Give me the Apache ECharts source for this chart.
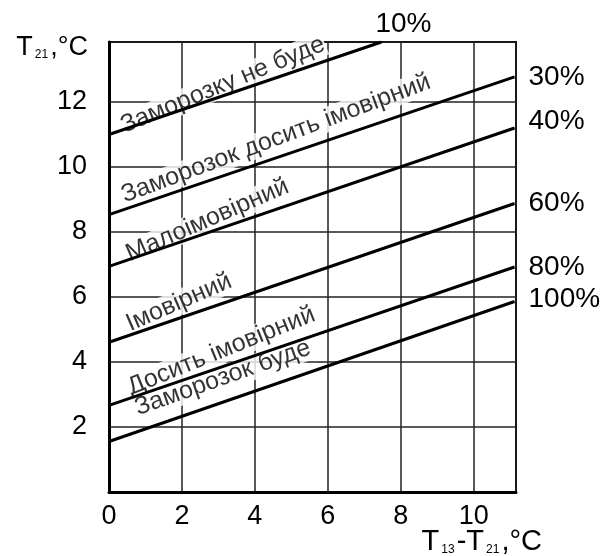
<!DOCTYPE html>
<html>
<head>
<meta charset="utf-8">
<script src="https://cdn.jsdelivr.net/npm/echarts@6/dist/echarts.min.js"></script>
<style>html,body{margin:0;padding:0;background:#fff}#c{width:610px;height:556px}</style>
</head>
<body>
<div id="c"></div>
<script>
// ---- data ----
var seriesNames = ['10%', '30%', '40%', '60%', '80%', '100%'];
var lineStartX = [0, 0, 0, 0, 0, 0];
var lineStartY = [10.98, 8.52, 6.93, 4.60, 2.66, 1.55];
var lineEndX = [7.47, 11.12, 11.12, 11.12, 11.12, 11.12];
var lineEndY = [13.82, 12.75, 11.18, 8.86, 6.91, 5.85];
var zoneTexts = ['Заморозку не буде', 'Заморозок досить імовірний', 'Малоімовірний', 'Імовірний', 'Досить імовірний', 'Заморозок буде'];
var zoneX = [3.12, 4.58, 2.70, 1.92, 3.08, 3.12];
var zoneY = [12.50, 10.85, 8.35, 5.82, 4.33, 3.50];
var xTicks = [0, 2, 4, 6, 8, 10];
var yTicks = [2, 4, 6, 8, 10, 12];
var xMax = 11.16, yMax = 13.82;

// ---- styling ----
var FONT = 'Liberation Sans, Arial, sans-serif';
var zoneAngles = [22.5, 20.5, 23.5, 23.5, 22, 19.5];
var endOffsets = [[-20, -18], [0, 0], [0, -7], [0, 0], [0, 0], [0, -2]];

var chart = echarts.init(document.getElementById('c'), null, {renderer: 'canvas'});

var series = seriesNames.map(function (n, i) {
  return {
    type: 'line', name: n, z: 4,
    data: [[lineStartX[i], lineStartY[i]], [lineEndX[i], lineEndY[i]]],
    symbol: 'none', silent: true,
    lineStyle: {color: '#000', width: 3},
    endLabel: {
      show: true, formatter: n, distance: 14,
      offset: endOffsets[i],
      fontFamily: FONT, fontSize: 28, color: '#000'
    }
  };
});

series.push({
  type: 'scatter', z: 3, silent: true,
  symbolSize: 0,
  data: zoneTexts.map(function (t, i) {
    return {
      value: [zoneX[i], zoneY[i]],
      label: {formatter: t, rotate: zoneAngles[i]}
    };
  }),
  label: {
    show: true, position: 'inside', align: 'center', verticalAlign: 'middle',
    fontFamily: FONT, fontSize: 25, color: '#000',
    backgroundColor: '#fff', padding: [0, 1]
  }
});

chart.setOption({
  animation: false,
  backgroundColor: '#fff',
  grid: {left: 109, right: 94, top: 42, bottom: 64, show: true, borderColor: '#000', borderWidth: 2,
         backgroundColor: 'transparent', containLabel: false, outerBoundsMode: 'none'},
  xAxis: {
    type: 'value', min: 0, max: xMax, interval: 2,
    axisLine: {show: true, lineStyle: {color: '#000', width: 3}},
    axisTick: {show: false},
    splitLine: {show: true, lineStyle: {color: '#222', width: 1.5}},
    axisLabel: {
      margin: 11, fontFamily: FONT, fontSize: 27, color: '#000',
      formatter: function (v) { return xTicks.indexOf(v) >= 0 ? String(v) : ''; }
    },
    name: '{b|T}{s|13}{b|-T}{s|21}{b|,°C}',
    nameLocation: 'end', nameGap: 26, nameMoveOverlap: false,
    nameTextStyle: {
      align: 'right', verticalAlign: 'top', padding: [36, 0, 0, 0],
      rich: {
        b: {fontFamily: FONT, fontSize: 29, color: '#000', verticalAlign: 'bottom', lineHeight: 28},
        s: {fontFamily: FONT, fontSize: 12, color: '#000', verticalAlign: 'bottom', lineHeight: 22, padding: [0, 2, 0, 2]}
      }
    }
  },
  yAxis: {
    type: 'value', min: 0, max: yMax, interval: 2,
    axisLine: {show: true, lineStyle: {color: '#000', width: 3}},
    axisTick: {show: false},
    splitLine: {show: true, lineStyle: {color: '#222', width: 1.5}},
    axisLabel: {
      margin: 22, fontFamily: FONT, fontSize: 27, color: '#000',
      formatter: function (v) { return yTicks.indexOf(v) >= 0 ? String(v) : ''; }
    },
    name: '{b|T}{s|21}{b|,°C}',
    nameLocation: 'end', nameGap: -5, nameMoveOverlap: false,
    nameTextStyle: {
      align: 'right', verticalAlign: 'middle', padding: [0, 21, 0, 0],
      rich: {
        b: {fontFamily: FONT, fontSize: 27, color: '#000', verticalAlign: 'bottom', lineHeight: 28},
        s: {fontFamily: FONT, fontSize: 12, color: '#000', verticalAlign: 'bottom', lineHeight: 21, padding: [0, 2, 0, 2]}
      }
    }
  },
  series: series
});
</script>
</body>
</html>
